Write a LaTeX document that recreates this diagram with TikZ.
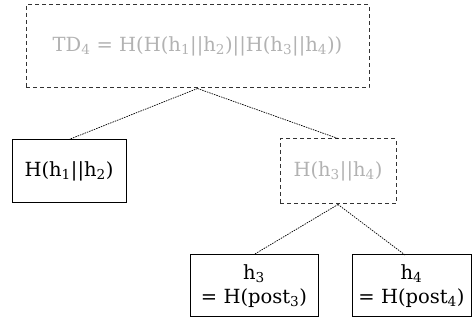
\documentclass[tikz,border=0pt]{standalone}
\usepackage{fontspec}
\setmainfont{DejaVu Serif}
\newcommand\sbs[1]{\textsubscript{#1}}
\begin{document}
\begin{tikzpicture}[x=1pt,y=-1pt,
  box/.style={draw, line width=1pt, inner sep=0pt, font=\fontsize{19.5}{24}\selectfont, align=center},
  dbox/.style={box, draw=black!80, dash pattern=on 4pt off 3pt, text=black!30},
  link/.style={line width=0.7pt, dash pattern=on 1.5pt off 1pt, black}]
\useasboundingbox (0,0) rectangle (472,323);
\node[dbox, minimum width=343pt, minimum height=83pt] (top) at (197.5,46.5)
  {TD\sbs{4} = H(H(h\sbs{1}||h\sbs{2})||H(h\sbs{3}||h\sbs{4}))};
\node[box, minimum width=114pt, minimum height=63pt] (l) at (69,171.5)
  {H(h\sbs{1}||h\sbs{2})};
\node[dbox, minimum width=116pt, minimum height=65pt] (m) at (338,171.5)
  {H(h\sbs{3}||h\sbs{4})};
\node[box, minimum width=128pt, minimum height=62pt] (a) at (254,286)
  {h\sbs{3}\\= H(post\sbs{3})};
\node[box, minimum width=119pt, minimum height=62pt] (b) at (411.5,286)
  {h\sbs{4}\\= H(post\sbs{4})};
\coordinate (bt) at (405,255);
\draw[link] (top.south) -- (l.north);
\draw[link] (top.south) -- (m.north);
\draw[link] (m.south) -- (a.north);
\draw[link] (m.south) -- (bt);
\end{tikzpicture}
\end{document}
